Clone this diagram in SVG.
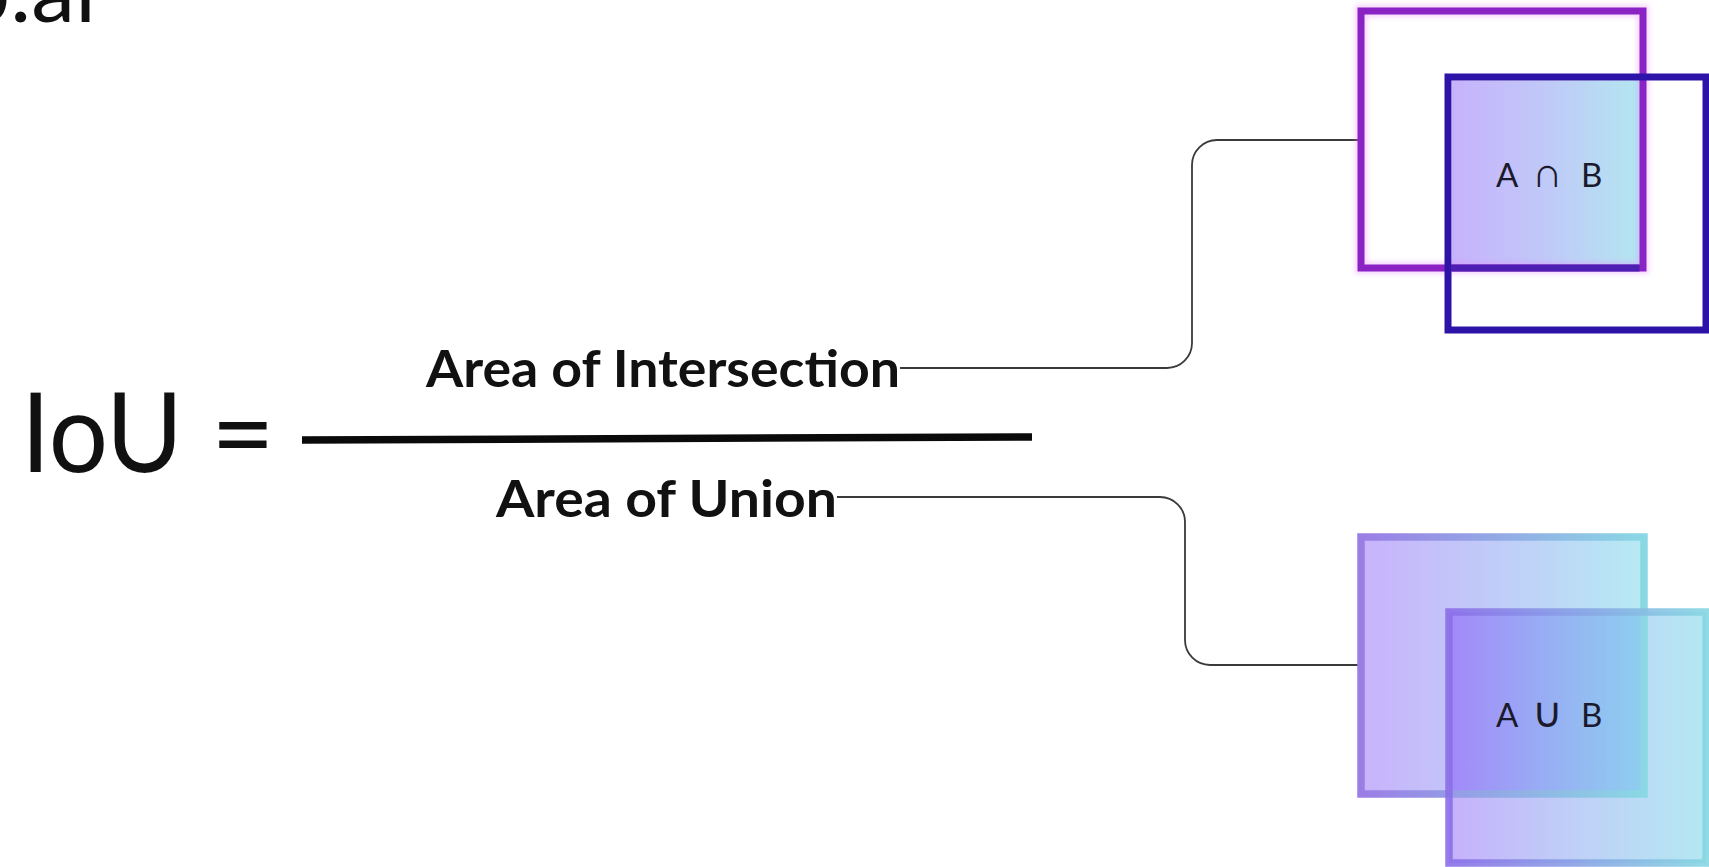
<svg xmlns="http://www.w3.org/2000/svg" width="1709" height="867" viewBox="0 0 1709 867">
  <style>
    .formula { font-family: Lato, "Open Sans", "DejaVu Sans", sans-serif; fill: #111111; }
    .term { font-family: Lato, "Open Sans", sans-serif; font-weight: 700; font-size: 52px; fill: #111111; }
    .setlabel { font-family: Lato, "DejaVu Sans", sans-serif; font-size: 33px; fill: #1b1a2c; }
    .setop { font-family: "DejaVu Sans", sans-serif; font-weight: 200; font-size: 42px; fill: #1b1a2c; text-anchor: middle; }
    .link { fill: none; stroke: #3a3a3a; stroke-width: 1.8; }
  </style>
  <defs>
    <linearGradient id="ixFill" gradientUnits="userSpaceOnUse" x1="1452" y1="0" x2="1640" y2="0">
      <stop offset="0" stop-color="#c7b2fc"/>
      <stop offset="0.5" stop-color="#c0c9f8"/>
      <stop offset="1" stop-color="#b3e6f0"/>
    </linearGradient>
    <linearGradient id="cFill" gradientUnits="userSpaceOnUse" x1="1361" y1="0" x2="1644" y2="0">
      <stop offset="0" stop-color="#c8b3fb"/>
      <stop offset="0.5" stop-color="#c0cdf8"/>
      <stop offset="1" stop-color="#b6eaf3"/>
    </linearGradient>
    <linearGradient id="dFill" gradientUnits="userSpaceOnUse" x1="1449" y1="0" x2="1706" y2="0">
      <stop offset="0" stop-color="#c6b1fb"/>
      <stop offset="0.5" stop-color="#bfd0f7"/>
      <stop offset="1" stop-color="#b4e8f2"/>
    </linearGradient>
    <linearGradient id="overlapFill" gradientUnits="userSpaceOnUse" x1="1452" y1="0" x2="1640" y2="0">
      <stop offset="0" stop-color="#a28af9"/>
      <stop offset="0.5" stop-color="#98aef4"/>
      <stop offset="1" stop-color="#8ecdef"/>
    </linearGradient>
    <linearGradient id="cStroke" gradientUnits="userSpaceOnUse" x1="1361" y1="0" x2="1644" y2="0">
      <stop offset="0" stop-color="#9a7ee6"/>
      <stop offset="1" stop-color="#8ad8e4"/>
    </linearGradient>
    <linearGradient id="dStroke" gradientUnits="userSpaceOnUse" x1="1449" y1="0" x2="1706" y2="0">
      <stop offset="0" stop-color="#8a6ee8"/>
      <stop offset="1" stop-color="#86d6e2"/>
    </linearGradient>
    <filter id="halo" x="-10%" y="-10%" width="120%" height="120%">
      <feGaussianBlur stdDeviation="2.5"/>
    </filter>
  </defs>

  <!-- watermark cut by the top edge -->
  <text class="formula" x="96" y="22" font-size="88" text-anchor="end">b.ai</text>

  <!-- IoU formula -->
  <g id="formula">
    <text class="formula" x="21" y="472" font-size="110" textLength="162" lengthAdjust="spacingAndGlyphs">IoU</text>
    <text class="formula" x="243" y="472" font-size="110" text-anchor="middle">=</text>
    <line x1="302" y1="440" x2="1032" y2="437" stroke="#0a0a0a" stroke-width="7.5"/>
  </g>

  <g id="numerator">
    <text class="term" x="426" y="387" textLength="474" lengthAdjust="spacingAndGlyphs">Area of Intersection</text>
  </g>

  <g id="denominator">
    <text class="term" x="496" y="517" textLength="341" lengthAdjust="spacingAndGlyphs">Area of Union</text>
  </g>

  <!-- connectors -->
  <g id="connectors">
    <path class="link" d="M 900 368 H 1167 A 25 25 0 0 0 1192 343 V 165 A 25 25 0 0 1 1217 140 H 1358"/>
    <path class="link" d="M 837 497 H 1160 A 25 25 0 0 1 1185 522 V 640 A 25 25 0 0 0 1210 665 H 1358"/>
  </g>

  <!-- A ∩ B -->
  <g id="intersection">
    <rect x="1452" y="80.5" width="188" height="184" fill="url(#ixFill)"/>
    <rect x="1361" y="11" width="282" height="257" fill="none" stroke="#e684ff" stroke-width="12" opacity="0.35" filter="url(#halo)"/>
    <rect x="1361" y="11" width="282" height="257" fill="none" stroke="#8a22c4" stroke-width="7"/>
    <rect x="1448" y="77" width="258" height="253" fill="none" stroke="#2e13a8" stroke-width="7"/>
    <line x1="1451.5" y1="268" x2="1639.5" y2="268" stroke="#4c1eb2" stroke-width="7"/>
    <text class="setlabel" y="187"><tspan x="1496">A</tspan><tspan x="1581">B</tspan></text>
    <text class="setop" x="1547" y="187">∩</text>
  </g>

  <!-- A ∪ B -->
  <g id="union">
    <rect x="1361" y="537" width="283" height="257" fill="url(#cFill)"/>
    <rect x="1449" y="612" width="257" height="251" fill="url(#dFill)"/>
    <rect x="1449" y="612" width="195" height="182" fill="url(#overlapFill)"/>
    <rect x="1361" y="537" width="283" height="257" fill="none" stroke="url(#cStroke)" stroke-width="7.5"/>
    <rect x="1449" y="612" width="257" height="251" fill="none" stroke="url(#dStroke)" stroke-width="7.5" stroke-opacity="0.9"/>
    <text class="setlabel" y="727" font-size="34"><tspan x="1496">A</tspan><tspan x="1581">B</tspan></text>
    <text class="setop" x="1547" y="727">∪</text>
  </g>
</svg>
